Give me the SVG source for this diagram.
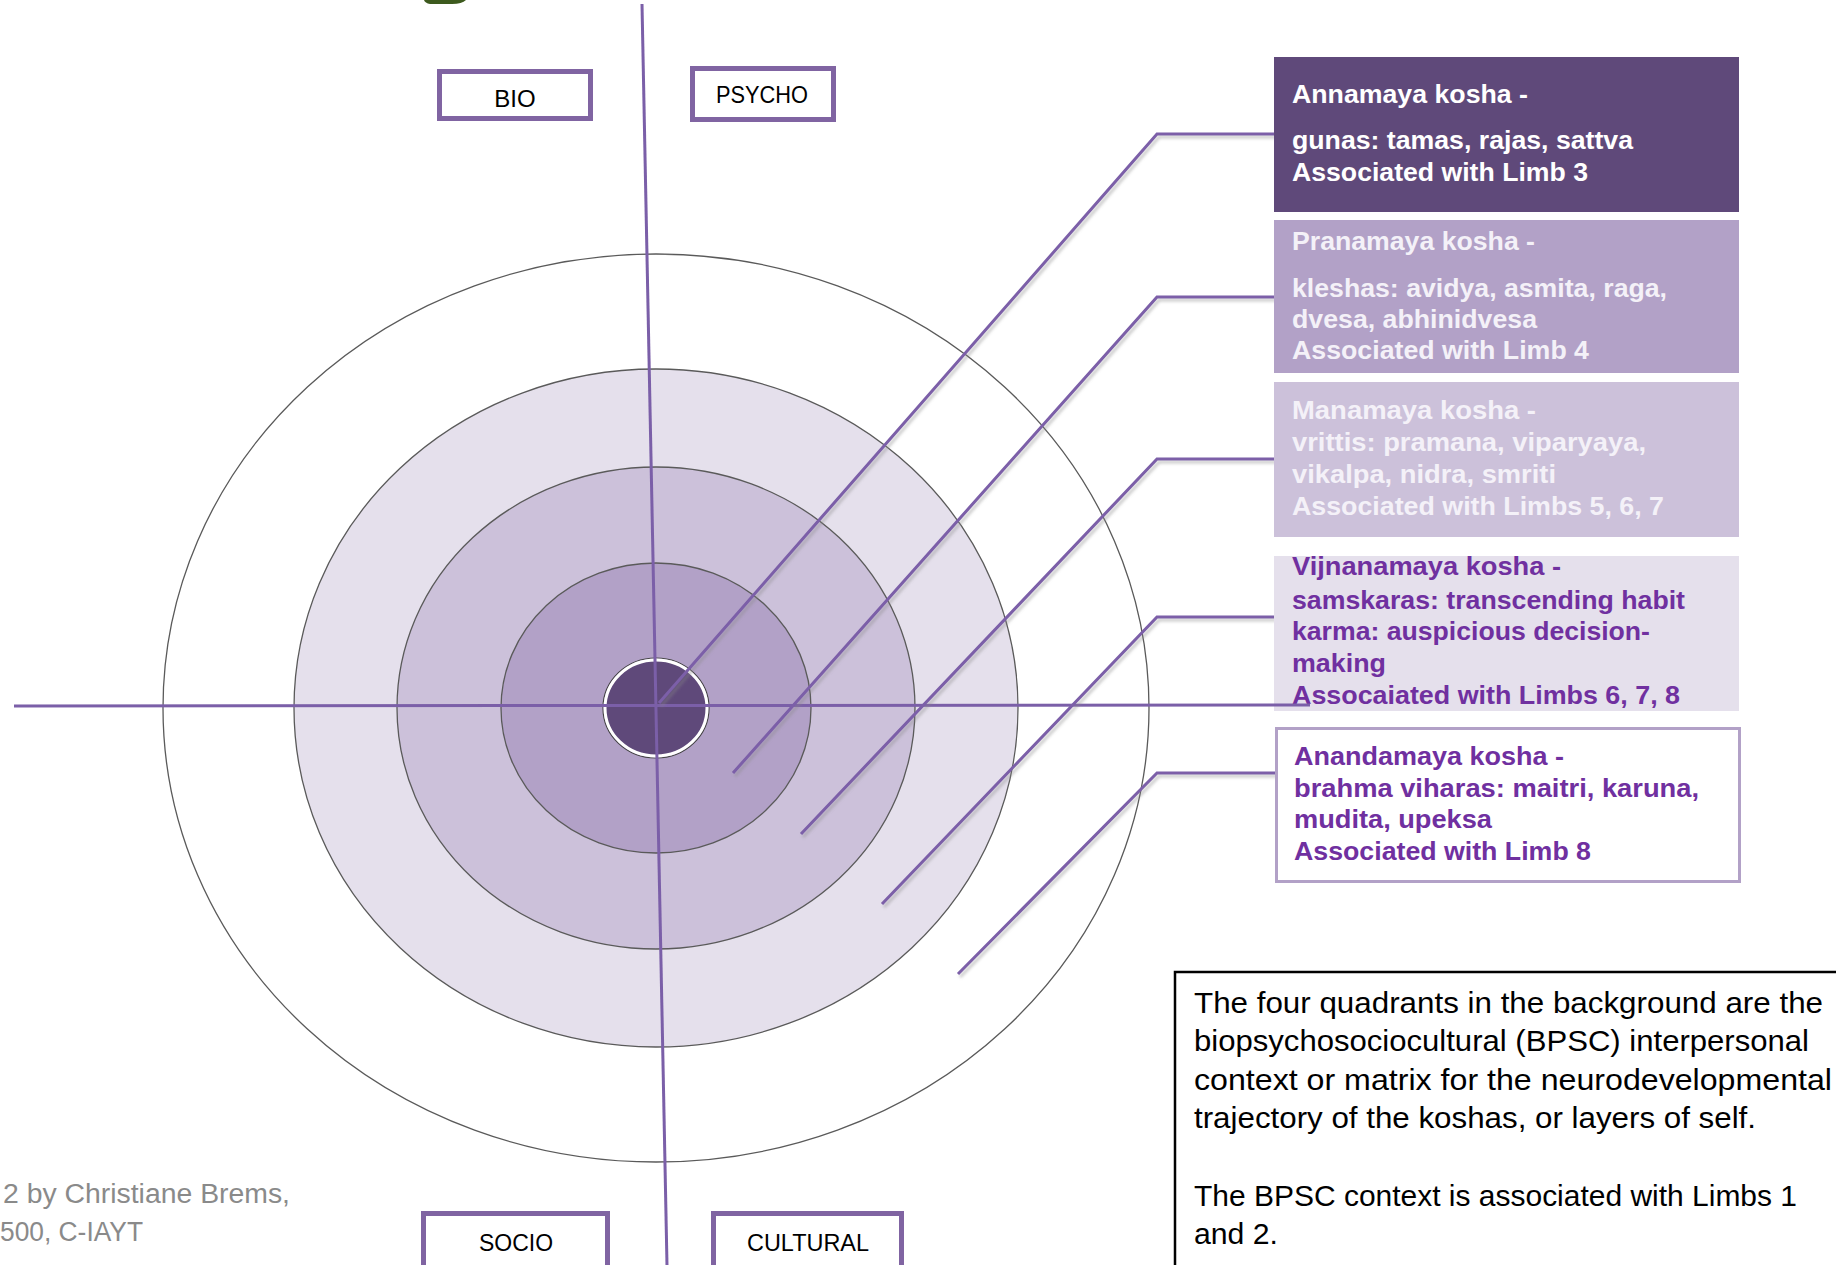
<svg xmlns="http://www.w3.org/2000/svg" width="1836" height="1265" viewBox="0 0 1836 1265">
<defs>
<style>
.lbl{font-family:"Liberation Sans",Arial,sans-serif;font-size:24px;fill:#000;text-anchor:middle}
.qbox{fill:#fff;stroke:#8064A2;stroke-width:5}
.kt{font-family:"Liberation Sans",Arial,sans-serif;font-size:26.5px;font-weight:bold}
.w{fill:#ffffff}
.w2{fill:#f4f1f8}
.p{fill:#7030A0}
.ring{stroke:#5a5a5a;stroke-width:1.3}
.conn{fill:none;stroke:#7b5fa8;stroke-width:3;stroke-linejoin:miter}
.axis{fill:none;stroke:#7b5fa8;stroke-width:3}
.note{font-family:"Liberation Sans",Arial,sans-serif;font-size:30px;fill:#000}
.credit{font-family:"Liberation Sans",Arial,sans-serif;font-size:27px;fill:#8a8a8a}
</style>
<filter id="sh" x="-10%" y="-10%" width="130%" height="130%">
<feDropShadow dx="2" dy="3" stdDeviation="1.5" flood-color="#888" flood-opacity="0.45"/>
</filter>
</defs>
<rect width="1836" height="1265" fill="#fff"/>
<path d="M424,0 L466,0 Q462,4 452,4 L430,4 Q425,3 424,0 Z" fill="#3d5a1e"/>

<g id="layers">
<ellipse cx="656" cy="708" rx="493" ry="454" fill="#fff" class="ring"/>
<ellipse cx="656" cy="708" rx="362" ry="339" fill="#E5E0EC" class="ring"/>
<ellipse cx="656" cy="708" rx="259" ry="241" fill="#CCC1DA" class="ring"/>
<ellipse cx="656" cy="708" rx="155" ry="145" fill="#B2A1C7" class="ring"/>
<ellipse cx="656" cy="708" rx="53" ry="50" fill="none" stroke="#444" stroke-width="1.2"/>
<ellipse cx="656" cy="708" rx="51" ry="48" fill="#5F497A" stroke="#fff" stroke-width="3"/>
</g>

<g id="axes">
<line class="axis" x1="642" y1="4" x2="667" y2="1265"/>
<line class="axis" x1="14" y1="706" x2="1310" y2="705"/>
</g>

<g id="connectors" filter="url(#sh)">
<polyline class="conn" points="659,703 1157,134 1274,134"/>
<polyline class="conn" points="733,773 1157,297 1274,297"/>
<polyline class="conn" points="801,834 1157,459 1274,459"/>
<polyline class="conn" points="882,904 1157,617 1274,617"/>
<polyline class="conn" points="958,974 1157,773 1276,773"/>
</g>

<g id="bio"><rect class="qbox" x="439.5" y="71.5" width="151" height="47"/><text class="lbl" x="515" y="107">BIO</text></g>
<g id="psycho"><rect class="qbox" x="692.5" y="68.5" width="141" height="51"/><text class="lbl" x="762" y="103" textLength="92" lengthAdjust="spacingAndGlyphs">PSYCHO</text></g>
<g id="socio"><rect class="qbox" x="423.5" y="1213.5" width="184" height="60"/><text class="lbl" x="516" y="1251" textLength="74" lengthAdjust="spacingAndGlyphs">SOCIO</text></g>
<g id="cultural"><rect class="qbox" x="713.5" y="1213.5" width="188" height="60"/><text class="lbl" x="808" y="1251" textLength="122" lengthAdjust="spacingAndGlyphs">CULTURAL</text></g>

<g id="annamaya">
<rect x="1274" y="57" width="465" height="155" fill="#5F497A"/>
<text class="kt w" x="1292" y="103" textLength="236" lengthAdjust="spacingAndGlyphs">Annamaya kosha -</text>
<text class="kt w" x="1292" y="149" textLength="341" lengthAdjust="spacingAndGlyphs">gunas: tamas, rajas, sattva</text>
<text class="kt w" x="1292" y="181" textLength="296" lengthAdjust="spacingAndGlyphs">Associated with Limb 3</text>
</g>
<g id="pranamaya">
<rect x="1274" y="220" width="465" height="153" fill="#B2A1C7"/>
<text class="kt w2" x="1292" y="250" textLength="243" lengthAdjust="spacingAndGlyphs">Pranamaya kosha -</text>
<text class="kt w2" x="1292" y="297" textLength="375" lengthAdjust="spacingAndGlyphs">kleshas: avidya, asmita, raga,</text>
<text class="kt w2" x="1292" y="328" textLength="245" lengthAdjust="spacingAndGlyphs">dvesa, abhinidvesa</text>
<text class="kt w2" x="1292" y="359" textLength="297" lengthAdjust="spacingAndGlyphs">Associated with Limb 4</text>
</g>
<g id="manamaya">
<rect x="1274" y="382" width="465" height="155" fill="#CCC1DA"/>
<text class="kt w2" x="1292" y="419" textLength="244" lengthAdjust="spacingAndGlyphs">Manamaya kosha -</text>
<text class="kt w2" x="1292" y="451" textLength="354" lengthAdjust="spacingAndGlyphs">vrittis: pramana, viparyaya,</text>
<text class="kt w2" x="1292" y="483" textLength="264" lengthAdjust="spacingAndGlyphs">vikalpa, nidra, smriti</text>
<text class="kt w2" x="1292" y="515" textLength="372" lengthAdjust="spacingAndGlyphs">Associated with Limbs 5, 6, 7</text>
</g>
<g id="vijnanamaya">
<rect x="1274" y="556" width="465" height="155" fill="#E5E0EC"/>
<text class="kt p" x="1292" y="575" textLength="269" lengthAdjust="spacingAndGlyphs">Vijnanamaya kosha -</text>
<text class="kt p" x="1292" y="609" textLength="393" lengthAdjust="spacingAndGlyphs">samskaras: transcending habit</text>
<text class="kt p" x="1292" y="640" textLength="358" lengthAdjust="spacingAndGlyphs">karma: auspicious decision-</text>
<text class="kt p" x="1292" y="672" textLength="94" lengthAdjust="spacingAndGlyphs">making</text>
<text class="kt p" x="1292" y="704" textLength="388" lengthAdjust="spacingAndGlyphs">Assocaiated with Limbs 6, 7, 8</text>
</g>
<line class="axis" x1="1274" y1="705" x2="1310" y2="705"/>
<g id="anandamaya">
<rect x="1276.5" y="728.5" width="463" height="153" fill="#fff" stroke="#B2A1C7" stroke-width="3"/>
<text class="kt p" x="1294" y="765" textLength="270" lengthAdjust="spacingAndGlyphs">Anandamaya kosha -</text>
<text class="kt p" x="1294" y="797" textLength="405" lengthAdjust="spacingAndGlyphs">brahma viharas: maitri, karuna,</text>
<text class="kt p" x="1294" y="828" textLength="198" lengthAdjust="spacingAndGlyphs">mudita, upeksa</text>
<text class="kt p" x="1294" y="860" textLength="297" lengthAdjust="spacingAndGlyphs">Associated with Limb 8</text>
</g>

<g id="note">
<rect x="1175" y="972" width="700" height="320" fill="#fff" stroke="#000" stroke-width="2.5"/>
<text class="note" x="1194" y="1013" textLength="629" lengthAdjust="spacingAndGlyphs">The four quadrants in the background are the</text>
<text class="note" x="1194" y="1051" textLength="615" lengthAdjust="spacingAndGlyphs">biopsychosociocultural  (BPSC) interpersonal</text>
<text class="note" x="1194" y="1090" textLength="638" lengthAdjust="spacingAndGlyphs">context or matrix for the neurodevelopmental</text>
<text class="note" x="1194" y="1128" textLength="562" lengthAdjust="spacingAndGlyphs">trajectory of the koshas, or layers of self.</text>
<text class="note" x="1194" y="1206" textLength="603" lengthAdjust="spacingAndGlyphs">The BPSC context is associated with Limbs 1</text>
<text class="note" x="1194" y="1244" textLength="84" lengthAdjust="spacingAndGlyphs">and 2.</text>
</g>

<g id="credit">
<text class="credit" x="3" y="1203" textLength="287" lengthAdjust="spacingAndGlyphs">2 by Christiane Brems,</text>
<text class="credit" x="0" y="1241" textLength="143" lengthAdjust="spacingAndGlyphs">500, C-IAYT</text>
</g>
</svg>
